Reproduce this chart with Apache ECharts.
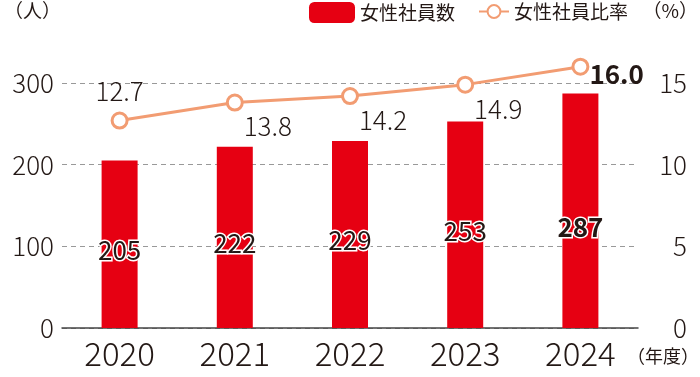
<!DOCTYPE html>
<html><head><meta charset="utf-8">
<script src="https://cdn.jsdelivr.net/npm/echarts@6/dist/echarts.min.js"></script>
<style>html,body{margin:0;padding:0;background:#fff}#c{width:700px;height:377px}</style>
</head><body><div id="c"></div>
<script>
const years = ['2020','2021','2022','2023','2024'];
const femaleCount = [205, 222, 229, 253, 287];
const femaleRatio = [12.7, 13.8, 14.2, 14.9, 16.0];
const leftTicks = [0, 100, 200, 300];
const rightTicks = [0, 5, 10, 15];

const FONT = '"Noto Sans CJK JP", "Noto Sans", sans-serif';
const NUM = FONT;
const TXT = '#231815';
const RED = '#e60012';
const ORANGE = '#f29c72';

const chart = echarts.init(document.getElementById('c'));
chart.setOption({
  animation: false,
  textStyle: { fontFamily: FONT, color: TXT },
  grid: { left: 62, right: 62, top: 83, bottom: 49, containLabel: false, outerBoundsMode: 'none' },
  legend: [
    { data: ['女性社員数'], left: 309, top: 2, padding: 0, itemWidth: 46, itemHeight: 21, itemGap: 10,
      textStyle: { fontSize: 19, color: TXT, fontFamily: FONT } },
    { data: ['女性社員比率'], left: 478, top: 2, padding: 0, itemWidth: 30, itemHeight: 16,
      textStyle: { fontSize: 19, color: TXT, fontFamily: FONT } }
  ],
  xAxis: {
    type: 'category', data: years,
    axisLine: { lineStyle: { color: '#444', width: 1.5 } },
    axisTick: { show: false },
    axisLabel: { fontSize: 33, fontWeight: 300, fontFamily: NUM, color: TXT, margin: 9 }
  },
  yAxis: [
    { type: 'value', min: 0, max: 300, interval: 100,
      axisLine: { show: false }, axisTick: { show: false },
      axisLabel: { fontSize: 26, fontWeight: 300, fontFamily: NUM, color: TXT, margin: 8 },
      splitLine: { lineStyle: { type: [5, 4], color: '#999' } } },
    { type: 'value', min: 0, max: 15, interval: 5,
      axisLine: { show: false }, axisTick: { show: false },
      axisLabel: { fontSize: 26, fontWeight: 300, fontFamily: NUM, color: TXT, margin: 49, align: 'right' },
      splitLine: { show: false } }
  ],
  graphic: [
    { type: 'text', left: 4, top: 1, style: { text: '（人）', fontSize: 19, fill: TXT, fontFamily: FONT } },
    { type: 'text', right: 2, top: 1, style: { text: '（%）', fontSize: 19, fill: TXT, fontFamily: FONT } },
    { type: 'text', left: 627, top: 347, style: { text: '（年度）', fontSize: 18, fill: TXT, fontFamily: FONT } }
  ],
  series: [
    { name: '女性社員数', type: 'bar', yAxisIndex: 0, barWidth: 36,
      itemStyle: { color: RED },
      data: femaleCount.map((v, i) => ({ value: v,
        label: i === femaleCount.length - 1 ? { fontWeight: 'bold', offset: [0, 16] } : {} })),
      label: { show: true, position: 'inside', offset: [0, 6], fontSize: 26, color: TXT,
        textBorderColor: '#fff', textBorderWidth: 3, fontFamily: NUM } },
    { name: '女性社員比率', type: 'line', yAxisIndex: 1, clip: false,
      symbol: 'circle', symbolSize: 15, showAllSymbol: true,
      lineStyle: { color: ORANGE, width: 3 },
      itemStyle: { color: '#fff', borderColor: ORANGE, borderWidth: 3 },
      data: femaleRatio.map((v, i) => {
        let label;
        if (i === 0) label = { position: 'top', offset: [0, -2] };
        else if (i === femaleRatio.length - 1) label = { position: 'right', distance: 4, offset: [-4, 7], fontWeight: 'bold' };
        else label = { position: 'bottom', offset: [33, -3] };
        return { value: v, label };
      }),
      label: { show: true, fontSize: 26, fontWeight: 300, color: TXT, fontFamily: NUM,
        formatter: p => p.value.toFixed(1) } }
  ]
});
</script></body></html>
